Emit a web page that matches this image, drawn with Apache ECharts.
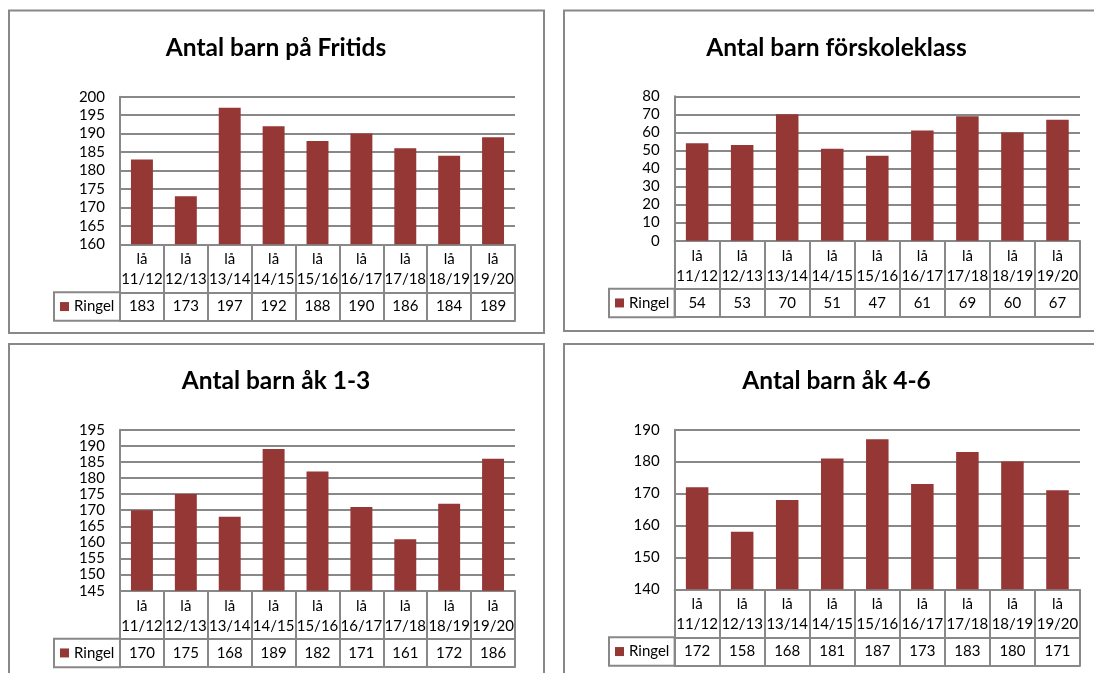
<!DOCTYPE html>
<html>
<head>
<meta charset="utf-8">
<script src="https://cdn.jsdelivr.net/npm/echarts@6/dist/echarts.min.js"></script>
<style>
html,body{margin:0;padding:0;background:#fff;}
#chart{width:1094px;height:673px;}
</style>
</head>
<body>
<div id="chart"></div>
<script>
// ---- data ----
const categories = ['lå 11/12','lå 12/13','lå 13/14','lå 14/15','lå 15/16','lå 16/17','lå 17/18','lå 18/19','lå 19/20'];
const seriesName = 'Ringel';
const titles = ['Antal barn på Fritids','Antal barn förskoleklass','Antal barn åk 1-3','Antal barn åk 4-6'];
const fritids = [183,173,197,192,188,190,186,184,189];
const forskoleklass = [54,53,70,51,47,61,69,60,67];
const ak13 = [170,175,168,189,182,171,161,172,186];
const ak46 = [172,158,168,181,187,173,183,180,171];
const yMin = [160,0,145,140];
const yMax = [200,80,195,190];
const yStep = [5,10,5,10];

// ---- layout ----
const FONT = 'Lato';
const FS = 15;
const GRAY = '#888888';
const BAR = '#953735';
const CAT_ROW = 48;
const VAL_ROW = 28.5;
const layouts = [
  {box:[9,10.5,535,322.5], grid:[120,96.7,395,147.6], titleX:276, titleY:48, legendX:54},
  {box:[564,10.5,535,320.5], grid:[674.6,96.3,405.4,144.4], titleX:836.5, titleY:48, legendX:609},
  {box:[9,344,535,340], grid:[120,429.7,395,161], titleX:276, titleY:381, legendX:54},
  {box:[564,344,535,340], grid:[674.6,429.7,405.4,159.6], titleX:836.5, titleY:381, legendX:609}
];
const datasets = [fritids, forskoleklass, ak13, ak46];

const grid = [], xAxis = [], yAxis = [], series = [], title = [], legend = [], graphic = [];
const lineStyle = {color: GRAY, width: 2};

layouts.forEach((L, i) => {
  const [gl, gt, gw, gh] = L.grid;
  grid.push({left: gl, top: gt, width: gw, height: gh});
  // category row
  xAxis.push({
    type: 'category', gridIndex: i, position: 'bottom', data: categories,
    axisLine: {show: true, lineStyle},
    axisTick: {show: true, interval: 0, length: CAT_ROW + VAL_ROW, lineStyle},
    axisLabel: {interval: 0, margin: 5, fontFamily: FONT, fontSize: FS, color: '#000', lineHeight: 20,
      formatter: v => v.replace(' ', '\n')}
  });
  // value row
  xAxis.push({
    type: 'category', gridIndex: i, position: 'bottom', offset: CAT_ROW,
    data: datasets[i].map(String),
    axisLine: {show: true, lineStyle},
    axisTick: {show: false},
    axisLabel: {interval: 0, margin: 6, fontFamily: FONT, fontSize: FS, color: '#000', lineHeight: 16}
  });
  // bottom border of table
  xAxis.push({
    type: 'category', gridIndex: i, position: 'bottom', offset: CAT_ROW + VAL_ROW,
    data: categories,
    axisLine: {show: true, lineStyle},
    axisTick: {show: false},
    axisLabel: {show: false}
  });
  yAxis.push({
    type: 'value', gridIndex: i, min: yMin[i], max: yMax[i], interval: yStep[i],
    axisLine: {show: true, lineStyle},
    axisTick: {show: false},
    splitLine: {show: true, lineStyle},
    axisLabel: {margin: 15, fontFamily: FONT, fontSize: FS, color: '#000'}
  });
  series.push({
    type: 'bar', name: seriesName, xAxisIndex: i * 3, yAxisIndex: i,
    data: datasets[i], barWidth: '50%', itemStyle: {color: BAR}
  });
  title.push({
    text: titles[i], left: L.titleX, top: L.titleY - 15, textAlign: 'center', padding: 0,
    textStyle: {fontFamily: FONT, fontWeight: 'bold', fontSize: 24.5, color: '#000', lineHeight: 30}
  });
  const rowTop = gt + gh + CAT_ROW;
  legend.push({
    data: [seriesName], left: L.legendX + 6, top: rowTop + VAL_ROW / 2 - 8, padding: 0,
    icon: 'rect', itemWidth: 9, itemHeight: 9, selectedMode: false,
    textStyle: {fontFamily: FONT, fontSize: FS, color: '#000', lineHeight: 16}
  });
  graphic.push({
    type: 'rect', silent: true,
    shape: {x: L.box[0], y: L.box[1], width: L.box[2], height: L.box[3]},
    style: {fill: 'none', stroke: GRAY, lineWidth: 2}
  });
  graphic.push({
    type: 'rect', silent: true,
    shape: {x: L.legendX, y: rowTop, width: gl - L.legendX, height: VAL_ROW},
    style: {fill: 'none', stroke: GRAY, lineWidth: 2}
  });
});

const chart = echarts.init(document.getElementById('chart'), null, {renderer: 'canvas'});
chart.setOption({
  animation: false,
  backgroundColor: '#fff',
  title, legend, grid, xAxis, yAxis, series, graphic
});
</script>
</body>
</html>
